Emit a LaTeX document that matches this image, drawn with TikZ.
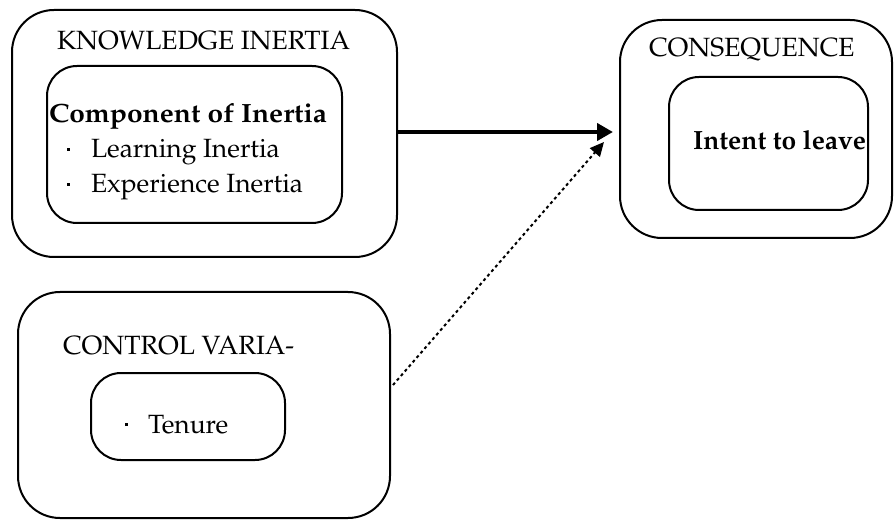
\documentclass[tikz,border=0pt]{standalone}
\usepackage[T1]{fontenc}
\usepackage{mathpazo}
\usetikzlibrary{arrows.meta}
\newcommand{\mydot}{\raisebox{7pt}{\rule{3.2pt}{3.2pt}}}
\begin{document}
\begin{tikzpicture}[x=1pt,y=-1pt,
  outerbox/.style={draw,line width=2pt,rounded corners=42pt,inner sep=0pt,outer sep=0pt,anchor=north west},
  innerbox/.style={draw,line width=2pt,rounded corners=30pt,inner sep=0pt,outer sep=0pt,anchor=north west},
  lbl/.style={anchor=base west,inner sep=0pt,outer sep=0pt,font=\fontsize{26.4}{30}\selectfont},
  blbl/.style={lbl,font=\fontsize{26.4}{30}\selectfont\bfseries},
]
\useasboundingbox (0,0) rectangle (894,521);
% boxes
\node[outerbox,minimum width=385pt,minimum height=247pt] (ki) at (12,10) {};
\node[innerbox,minimum width=295pt,minimum height=157pt] (kiin) at (47,66) {};
\node[outerbox,minimum width=272pt,minimum height=218pt] (cons) at (620,20) {};
\node[innerbox,minimum width=199pt,minimum height=133pt] (consin) at (669,77) {};
\node[outerbox,minimum width=372pt,minimum height=226pt] (cv) at (18,292) {};
\node[innerbox,minimum width=194pt,minimum height=87pt] (cvin) at (91,373) {};
% texts
\node[lbl] (kit) at (57,50) {KNOWLEDGE INERTIA};
\node[blbl] (comp) at (49,123) {\scalebox{1.065}[1]{Component of Inertia}};
\node[lbl] (li) at (67,158) {\makebox[24pt][l]{\mydot}Learning Inertia};
\node[lbl] (ei) at (67,193) {\makebox[24pt][l]{\mydot}Experience Inertia};
\node[lbl] (const) at (649,57) {CONSEQUENCE};
\node[blbl] (itl) at (693,150) {Intent to leave};
\node[lbl] (cvt) at (63,354) {CONTROL VARIA-};
\node[lbl] (ten) at (125,433) {\makebox[23pt][l]{\mydot}Tenure};
% connectors
\coordinate (t1) at (613,132);
\draw[line width=4pt,-{Triangle[length=16pt,width=17pt]}] (ki.east |- t1) -- (t1);
\coordinate (t2) at (604,142);
\draw[line width=2pt,dash pattern=on 3pt off 3pt,-{Triangle[length=14pt,width=13pt]}] ([shift={(3,-20)}]cv.east) -- (t2);
\end{tikzpicture}
\end{document}
